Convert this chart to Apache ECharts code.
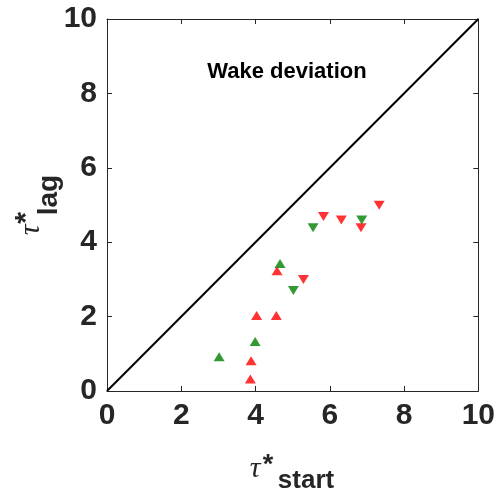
<!DOCTYPE html>
<html>
<head>
<meta charset="utf-8">
<script src="https://cdn.jsdelivr.net/npm/echarts@6/dist/echarts.min.js"></script>
<style>
html,body{margin:0;padding:0;background:#fff;}
#chart{width:498px;height:496px;}
</style>
</head>
<body>
<div id="chart"></div>
<script>
// Data
const redUpX = [3.86, 3.88, 4.03, 4.56, 4.58];
const redUpY = [0.32, 0.81, 2.03, 2.03, 3.23];
const greenUpX = [3.02, 3.99, 4.66];
const greenUpY = [0.92, 1.33, 3.43];
const redDownX = [5.29, 5.83, 6.31, 6.84, 7.33];
const redDownY = [3.00, 4.69, 4.60, 4.39, 4.99];
const greenDownX = [5.02, 5.55, 6.86];
const greenDownY = [2.70, 4.39, 4.60];
const diagX = [0, 10];
const diagY = [0, 10];
const titleText = 'Wake deviation';

const pairs = (xs, ys) => xs.map((x, i) => [x, ys[i]]);

const chart = echarts.init(document.getElementById('chart'), null, {renderer: 'canvas'});
const axisColor = '#262626';
const FONT = 'Liberation Sans, Arial, sans-serif';

function baseAxis(extra) {
  return Object.assign({
    type: 'value', min: 0, max: 10, interval: 2,
    axisLine: {show: true, onZero: false, lineStyle: {color: axisColor, width: 1}},
    axisTick: {show: true, inside: true, length: 5, lineStyle: {color: axisColor}},
    splitLine: {show: false},
    axisLabel: {show: false}
  }, extra);
}

const labelStyle = {show: true, color: axisColor, fontFamily: FONT, fontWeight: 'bold', fontSize: 30, margin: 10};

const option = {
  animation: false,
  backgroundColor: '#fff',
  grid: {left: 107, top: 19, width: 373, height: 372, containLabel: false},
  xAxis: [
    baseAxis({position: 'bottom', axisLabel: labelStyle}),
    baseAxis({position: 'top'})
  ],
  yAxis: [
    baseAxis({position: 'left', axisLabel: labelStyle}),
    baseAxis({position: 'right'})
  ],
  series: [
    {type: 'line', data: pairs(diagX, diagY), symbol: 'none', lineStyle: {color: '#000', width: 2}, z: 2},
    {type: 'scatter', data: pairs(redUpX, redUpY), symbol: 'triangle', symbolSize: [11, 9], itemStyle: {color: '#ff0000'}, z: 3},
    {type: 'scatter', data: pairs(greenUpX, greenUpY), symbol: 'triangle', symbolSize: [11, 9], itemStyle: {color: '#008000'}, z: 3},
    {type: 'scatter', data: pairs(redDownX, redDownY), symbol: 'triangle', symbolRotate: 180, symbolSize: [11, 9], itemStyle: {color: '#ff0000'}, z: 3},
    {type: 'scatter', data: pairs(greenDownX, greenDownY), symbol: 'triangle', symbolRotate: 180, symbolSize: [11, 9], itemStyle: {color: '#008000'}, z: 3}
  ],
  graphic: [
    {type: 'text', x: 287, y: 72,
      style: {text: titleText, align: 'center', verticalAlign: 'middle', fill: '#000', font: 'bold 22px ' + FONT}},
    // x axis label: tau* start
    {type: 'text', style: {text: 'τ', x: 255, y: 469, align: 'center', verticalAlign: 'middle', fill: axisColor, font: 'italic 30px Liberation Serif, serif'}},
    {type: 'text', style: {text: '*', x: 268, y: 466, align: 'center', verticalAlign: 'middle', fill: axisColor, font: 'bold 27px ' + FONT}},
    {type: 'text', style: {text: 'start', x: 306, y: 481, align: 'center', verticalAlign: 'middle', fill: axisColor, font: 'bold 26px ' + FONT}},
    // y axis label rotated
    {type: 'group', x: 0, y: 0, rotation: Math.PI / 2,
      children: [
        {type: 'text', style: {text: 'τ', x: -230, y: 31, align: 'center', verticalAlign: 'middle', fill: axisColor, font: 'italic 30px Liberation Serif, serif'}},
        {type: 'text', style: {text: '*', x: -218, y: 27, align: 'center', verticalAlign: 'middle', fill: axisColor, font: 'bold 30px ' + FONT}},
        {type: 'text', style: {text: 'lag', x: -195, y: 49, align: 'center', verticalAlign: 'middle', fill: axisColor, font: 'bold 28px ' + FONT}}
      ]}
  ]
};
chart.setOption(option);
</script>
</body>
</html>
